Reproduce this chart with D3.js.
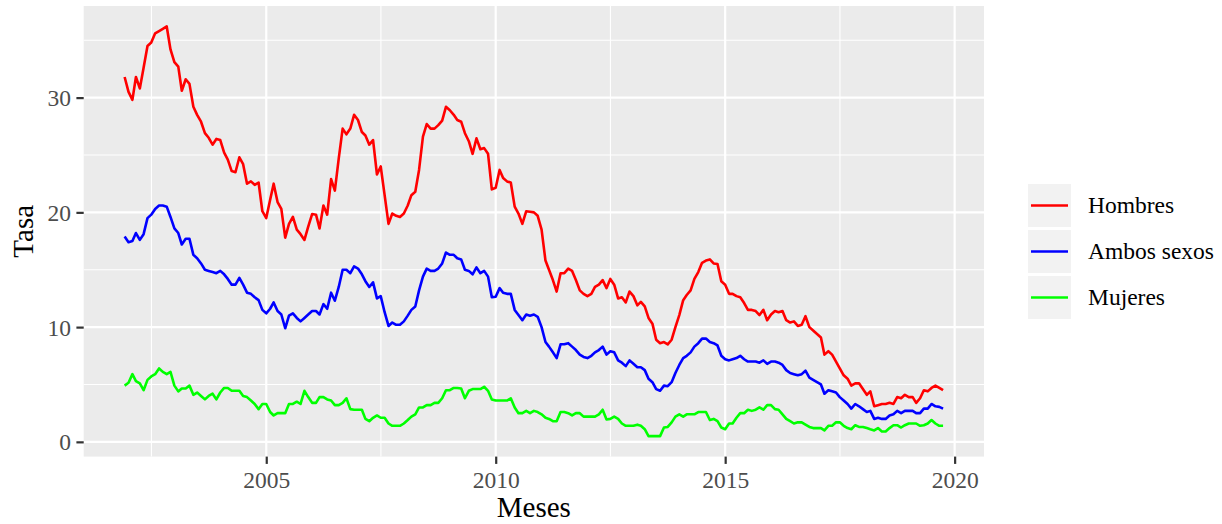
<!DOCTYPE html>
<html lang="es">
	<head>
		<meta charset="utf-8">
		<title>Tasa mensual por sexo</title>
		<script type="text/javascript" src="https://cdn.jsdelivr.net/npm/d3@7"></script>
		<style type="text/css">
			body{
				margin: 0;
				background: white;
			}
			text{
				font-family: "Liberation Serif", "Times New Roman", serif;
			}
		</style>
	</head>
	<body>
		<script type="text/javascript">

			//Serie mensual: primer mes diciembre 2001, un valor por mes
			var firstMonth = new Date(2001, 11, 1);

			var seriesNames = ["Hombres", "Ambos sexos", "Mujeres"];
			var seriesColors = ["#FF0000", "#0000FF", "#00FF00"];

			var hombres = [
				31.8, 30.5, 29.8, 31.8, 30.8, 32.6, 34.5, 34.8, 35.6, 35.8, 36.0, 36.2,
				34.2, 33.1, 32.7, 30.6, 31.6, 31.2, 29.2, 28.5, 27.9, 26.9, 26.5, 25.9,
				26.4, 26.3, 25.2, 24.6, 23.6, 23.5, 24.8, 24.2, 22.5, 22.7, 22.4, 22.6,
				20.1, 19.5, 21.1, 22.5, 20.9, 20.3, 17.8, 19.0, 19.6, 18.5, 18.1, 17.6,
				18.75, 19.85, 19.8, 18.6, 20.6, 19.8, 22.9, 21.9, 24.7, 27.3, 26.8, 27.3,
				28.5, 28.05, 27.0, 26.7, 25.9, 26.3, 23.3, 24.0, 21.5, 19.0, 19.9, 19.7,
				19.6, 19.9, 20.6, 21.5, 21.8, 23.7, 26.6, 27.7, 27.3, 27.3, 27.6, 28.0,
				29.2, 28.9, 28.5, 28.05, 27.9, 26.9, 26.2, 25.1, 26.45, 25.5, 25.6, 25.1,
				22.0, 22.15, 23.7, 23.0, 22.7, 22.6, 20.5, 19.9, 19.0, 20.1, 20.05, 20.0,
				19.7, 18.5, 15.8, 15.0, 14.1, 13.1, 14.7, 14.7, 15.1, 14.9, 14.1, 13.2,
				12.9, 12.7, 12.9, 13.5, 13.7, 14.1, 13.4, 14.2, 13.7, 12.5, 12.6, 12.15,
				13.1, 12.7, 11.9, 12.2, 11.8, 10.8, 10.3, 8.9, 8.6, 8.7, 8.5, 8.9,
				10.0, 11.05, 12.35, 12.8, 13.2, 14.2, 14.8, 15.6, 15.8, 15.9, 15.55, 15.5,
				14.0, 13.7, 12.9, 12.9, 12.7, 12.6, 12.1, 11.5, 11.5, 11.4, 11.05, 11.5,
				10.6, 11.1, 11.4, 11.3, 11.4, 10.6, 10.4, 10.5, 10.1, 10.2, 10.95, 10.0,
				9.7, 9.4, 9.1, 7.6, 7.9, 7.6, 7.0, 6.4, 5.8, 5.5, 4.9, 5.1,
				5.1, 4.6, 4.1, 4.4, 3.1, 3.2, 3.3, 3.3, 3.4, 3.3, 3.9, 3.8,
				4.1, 3.9, 3.9, 3.4, 3.8, 4.5, 4.4, 4.7, 4.9, 4.7, 4.5
			];

			var ambos = [
				17.9, 17.4, 17.5, 18.2, 17.6, 18.1, 19.5, 19.8, 20.3, 20.6, 20.6, 20.5,
				19.6, 18.6, 18.2, 17.2, 17.7, 17.7, 16.3, 16.0, 15.55, 15.0, 14.9, 14.8,
				14.7, 14.9, 14.6, 14.2, 13.7, 13.7, 14.3, 13.7, 13.0, 12.9, 12.6, 12.35,
				11.5, 11.2, 11.6, 12.15, 11.4, 11.1, 9.9, 11.0, 11.2, 10.8, 10.5, 10.8,
				11.1, 11.4, 11.4, 11.1, 12.0, 11.6, 13.0, 12.3, 13.5, 15.0, 15.0, 14.7,
				15.3, 15.1, 14.6, 14.0, 13.5, 13.9, 12.5, 12.7, 11.3, 10.1, 10.4, 10.2,
				10.2, 10.5, 11.0, 11.5, 11.8, 13.2, 14.4, 15.1, 14.9, 14.9, 15.1, 15.55,
				16.5, 16.3, 16.3, 16.0, 15.9, 15.0, 14.9, 14.6, 15.2, 14.7, 14.9, 14.4,
				12.6, 12.65, 13.4, 13.0, 12.9, 12.9, 11.5, 11.05, 10.6, 11.1, 11.0, 11.1,
				10.9, 10.0, 8.7, 8.3, 7.8, 7.3, 8.5, 8.5, 8.6, 8.3, 8.0, 7.6,
				7.4, 7.3, 7.5, 7.8, 8.0, 8.3, 7.6, 7.9, 7.8, 7.1, 6.9, 6.6,
				7.1, 6.8, 6.5, 6.5, 6.25, 5.5, 5.2, 4.6, 4.45, 4.9, 4.85, 5.2,
				6.0, 6.7, 7.3, 7.5, 7.8, 8.3, 8.6, 9.0, 9.0, 8.7, 8.6, 8.4,
				7.5, 7.2, 7.1, 7.2, 7.3, 7.5, 7.2, 7.0, 7.0, 7.0, 6.9, 7.1,
				6.8, 7.0, 7.0, 6.9, 6.7, 6.25, 6.0, 5.9, 5.8, 5.9, 6.2, 5.6,
				5.4, 5.2, 5.0, 4.2, 4.5, 4.4, 4.3, 3.9, 3.6, 3.3, 2.9, 3.3,
				3.1, 2.85, 2.6, 2.7, 2.0, 2.1, 2.0, 2.0, 2.3, 2.4, 2.7, 2.5,
				2.7, 2.7, 2.7, 2.5, 2.5, 2.9, 2.9, 3.3, 3.1, 3.05, 2.9
			];

			var mujeres = [
				4.9, 5.15, 5.9, 5.3, 5.1, 4.5, 5.4, 5.7, 5.9, 6.4, 6.1, 5.9,
				6.1, 4.9, 4.4, 4.65, 4.65, 4.9, 4.1, 4.3, 4.0, 3.7, 4.0, 4.2,
				3.7, 4.3, 4.7, 4.7, 4.45, 4.45, 4.45, 4.0, 3.9, 3.6, 3.3, 2.85,
				3.3, 3.3, 2.6, 2.3, 2.5, 2.5, 2.5, 3.3, 3.3, 3.5, 3.3, 4.45,
				3.9, 3.4, 3.4, 3.9, 3.9, 3.7, 3.6, 3.2, 3.2, 3.4, 3.8, 2.85,
				2.8, 2.8, 2.8, 2.0, 1.8, 2.1, 2.3, 2.1, 2.1, 1.6, 1.4, 1.4,
				1.4, 1.6, 1.9, 2.2, 2.4, 3.0, 3.0, 3.2, 3.2, 3.4, 3.4, 3.8,
				4.5, 4.5, 4.7, 4.7, 4.65, 3.8, 4.45, 4.6, 4.6, 4.6, 4.8, 4.45,
				3.7, 3.6, 3.6, 3.6, 3.6, 3.8, 3.0, 2.5, 2.5, 2.7, 2.5, 2.7,
				2.6, 2.4, 2.1, 2.0, 1.8, 1.8, 2.6, 2.6, 2.5, 2.3, 2.5, 2.5,
				2.2, 2.2, 2.2, 2.2, 2.4, 2.8, 1.95, 2.0, 2.2, 2.0, 1.6, 1.4,
				1.4, 1.4, 1.5, 1.4, 1.1, 0.5, 0.5, 0.5, 0.5, 1.25, 1.3, 1.7,
				2.2, 2.4, 2.2, 2.4, 2.4, 2.4, 2.6, 2.6, 2.6, 1.9, 2.0, 1.8,
				1.25, 1.1, 1.6, 1.6, 2.1, 2.5, 2.5, 2.8, 2.7, 2.8, 3.0, 2.8,
				3.2, 3.2, 2.85, 2.8, 2.4, 2.0, 1.8, 1.6, 1.7, 1.7, 1.5, 1.3,
				1.2, 1.2, 1.2, 1.0, 1.4, 1.4, 1.7, 1.7, 1.4, 1.2, 1.1, 1.45,
				1.3, 1.3, 1.2, 1.1, 1.0, 1.2, 0.9, 0.9, 1.2, 1.45, 1.45, 1.25,
				1.45, 1.6, 1.6, 1.6, 1.4, 1.45, 1.6, 1.9, 1.6, 1.4, 1.4
			];

			var yTicks = [0, 10, 20, 30];
			var yMinor = [5, 15, 25, 35];
			var xTickYears = [2005, 2010, 2015, 2020];
			var xMinorYears = [2002.5, 2007.5, 2012.5, 2017.5];

			//Width and height
			var w = 1222;
			var h = 524;
			var panel = {left: 83.7, right: 984, top: 6, bottom: 456.6};

			var seriesValues = [hombres, ambos, mujeres];
			var series = seriesNames.map(function(name, k) {
				return {
					name: name,
					color: seriesColors[k],
					values: seriesValues[k].map(function(v, i) {
						return {date: d3.timeMonth.offset(firstMonth, i), value: v};
					})
				};
			});

			var allDates = series[0].values.map(function(d) { return d.date; });
			var allValues = [].concat(hombres, ambos, mujeres);

			//ggplot style 5% expansion
			var xExt = d3.extent(allDates);
			var xPad = (xExt[1] - xExt[0]) * 0.05;
			var yExt = d3.extent(allValues);
			var yPad = (yExt[1] - yExt[0]) * 0.05;

			var x = d3.scaleTime()
						.domain([new Date(+xExt[0] - xPad), new Date(+xExt[1] + xPad)])
						.range([panel.left, panel.right]);

			var y = d3.scaleLinear()
						.domain([yExt[0] - yPad, yExt[1] + yPad])
						.range([panel.bottom, panel.top]);

			function yearDate(yr) {
				var whole = Math.floor(yr);
				var start = new Date(whole, 0, 1);
				var end = new Date(whole + 1, 0, 1);
				return new Date(+start + (end - start) * (yr - whole));
			}

			var svg = d3.select("body")
						.append("svg")
						.attr("width", w)
						.attr("height", h);

			//Panel background
			svg.append("rect")
				.attr("x", panel.left)
				.attr("y", panel.top)
				.attr("width", panel.right - panel.left)
				.attr("height", panel.bottom - panel.top)
				.attr("fill", "#EBEBEB");

			var grid = svg.append("g");

			//Minor grid
			grid.selectAll("line.ymin")
				.data(yMinor)
				.enter()
				.append("line")
				.attr("x1", panel.left).attr("x2", panel.right)
				.attr("y1", function(d) { return y(d); })
				.attr("y2", function(d) { return y(d); })
				.attr("stroke", "white")
				.attr("stroke-width", 1.1);

			grid.selectAll("line.xmin")
				.data(xMinorYears)
				.enter()
				.append("line")
				.attr("y1", panel.top).attr("y2", panel.bottom)
				.attr("x1", function(d) { return x(yearDate(d)); })
				.attr("x2", function(d) { return x(yearDate(d)); })
				.attr("stroke", "white")
				.attr("stroke-width", 1.1);

			//Major grid
			grid.selectAll("line.ymaj")
				.data(yTicks)
				.enter()
				.append("line")
				.attr("x1", panel.left).attr("x2", panel.right)
				.attr("y1", function(d) { return y(d); })
				.attr("y2", function(d) { return y(d); })
				.attr("stroke", "white")
				.attr("stroke-width", 2.2);

			grid.selectAll("line.xmaj")
				.data(xTickYears)
				.enter()
				.append("line")
				.attr("y1", panel.top).attr("y2", panel.bottom)
				.attr("x1", function(d) { return x(new Date(d, 0, 1)); })
				.attr("x2", function(d) { return x(new Date(d, 0, 1)); })
				.attr("stroke", "white")
				.attr("stroke-width", 2.2);

			//Lines
			var line = d3.line()
						.x(function(d) { return x(d.date); })
						.y(function(d) { return y(d.value); });

			svg.selectAll("path.serie")
				.data(series)
				.enter()
				.append("path")
				.attr("class", "serie")
				.attr("d", function(d) { return line(d.values); })
				.attr("fill", "none")
				.attr("stroke", function(d) { return d.color; })
				.attr("stroke-width", 2.6)
				.attr("stroke-linejoin", "round");

			//Axes
			var xAxis = d3.axisBottom(x)
							.tickValues(xTickYears.map(function(d) { return new Date(d, 0, 1); }))
							.tickFormat(d3.timeFormat("%Y"))
							.tickSize(7.3)
							.tickPadding(7);

			var yAxis = d3.axisLeft(y)
							.tickValues(yTicks)
							.tickSize(7.3)
							.tickPadding(5.5);

			var gx = svg.append("g")
						.attr("transform", "translate(0," + panel.bottom + ")")
						.call(xAxis);

			var gy = svg.append("g")
						.attr("transform", "translate(" + panel.left + ",0)")
						.call(yAxis);

			[gx, gy].forEach(function(g) {
				g.select(".domain").remove();
				g.selectAll(".tick line").attr("stroke", "#333333").attr("stroke-width", 2.2);
				g.selectAll(".tick text")
					.attr("fill", "#4D4D4D")
					.style("font-size", "23.5px")
					.style("font-family", "'Liberation Serif', serif");
			});
			gx.selectAll(".tick text").attr("dy", "0.71em");
			gy.selectAll(".tick text").attr("dy", "0.34em");

			//Axis titles
			svg.append("text")
				.attr("x", (panel.left + panel.right) / 2)
				.attr("y", 517)
				.attr("text-anchor", "middle")
				.style("font-size", "29px")
				.text("Meses");

			svg.append("text")
				.attr("transform", "translate(33," + (panel.top + panel.bottom) / 2 + ") rotate(-90)")
				.attr("text-anchor", "middle")
				.style("font-size", "29px")
				.text("Tasa");

			//Legend
			var legend = svg.selectAll("g.legend")
							.data(series)
							.enter()
							.append("g")
							.attr("class", "legend")
							.attr("transform", function(d, i) {
								return "translate(1028," + (184 + i * 46) + ")";
							});

			legend.append("rect")
				.attr("width", 43)
				.attr("height", 43)
				.attr("fill", "#F2F2F2");

			legend.append("line")
				.attr("x1", 3).attr("x2", 40)
				.attr("y1", 21.5).attr("y2", 21.5)
				.attr("stroke", function(d) { return d.color; })
				.attr("stroke-width", 2.6);

			legend.append("text")
				.attr("x", 60)
				.attr("y", 21.5)
				.attr("dy", "0.34em")
				.style("font-size", "23.5px")
				.attr("fill", "black")
				.text(function(d) { return d.name; });

		</script>
	</body>
</html>
